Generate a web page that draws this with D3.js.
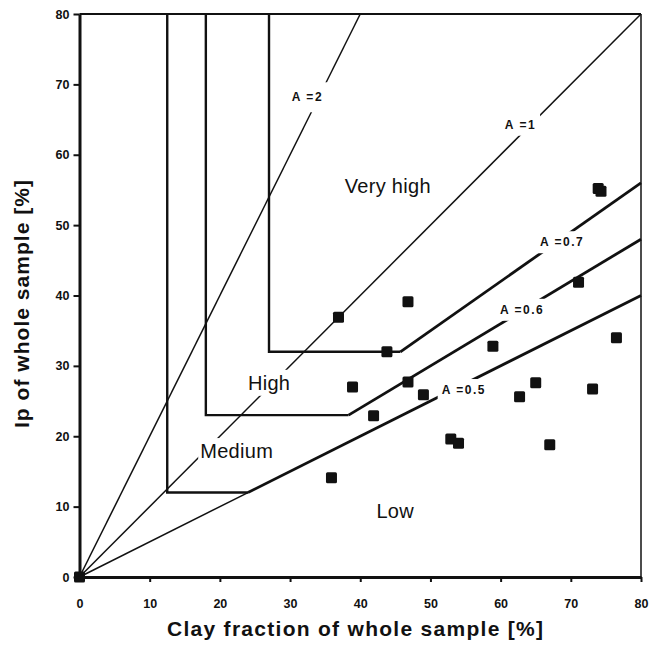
<!DOCTYPE html>
<html>
<head>
<meta charset="utf-8">
<script src="https://cdn.jsdelivr.net/npm/d3@7"></script>
<style>
  html, body { margin: 0; padding: 0; background: #fff; }
  svg { display: block; font-family: "Liberation Sans", Arial, sans-serif; }
</style>
</head>
<body>
<svg id="chart" width="651" height="645"></svg>
<script>
// Measured samples: clay fraction vs plasticity index (both % of whole sample)
const clayFraction = [0, 35.9, 36.9, 38.9, 41.9, 43.8, 46.8, 46.8, 49.0, 52.9, 54.0, 58.9, 62.7, 65.0, 67.0, 71.1, 73.1, 73.9, 74.3, 76.5];
const plasticityIndex = [0, 14.1, 36.9, 27.0, 22.9, 32.0, 39.1, 27.7, 25.9, 19.6, 19.0, 32.8, 25.6, 27.6, 18.8, 41.9, 26.7, 55.2, 54.8, 34.0];

// Activity lines Ip = A * clay fraction
const activityThin = [2, 1];
// Swelling-potential classes bounded by a minimum clay fraction, a minimum Ip and an activity line
const classNames = ["Medium", "High", "Very high"];
const classMinClay = [12.5, 18, 27];
const classMinIp = [12, 23, 32];
const classActivity = [0.5, 0.6, 0.7];

const xTicks = [0, 10, 20, 30, 40, 50, 60, 70, 80];
const yTicks = [0, 10, 20, 30, 40, 50, 60, 70, 80];

const svg = d3.select("#chart");
const x = d3.scaleLinear().domain([0, 80]).range([79.5, 641]);
const y = d3.scaleLinear().domain([0, 80]).range([577, 14]);
const ink = "#111";

const lineGen = d3.line().x(d => x(d[0])).y(d => y(d[1]));

// thin activity lines from the origin
const thinG = svg.append("g").attr("fill", "none").attr("stroke", ink).attr("stroke-width", 1.5);
activityThin.forEach(a => {
  const xEnd = Math.min(80, 80 / a);
  thinG.append("path").attr("d", lineGen([[0, 0], [xEnd, a * xEnd]]));
});
// lowest class activity line starts thin from the origin up to its Ip threshold
thinG.append("path").attr("d", lineGen([[0, 0], [classMinIp[0] / classActivity[0], classMinIp[0]]]));

// class boundaries: vertical clay limit, horizontal Ip limit, then activity line
const boundG = svg.append("g").attr("fill", "none").attr("stroke", ink)
  .attr("stroke-linejoin", "miter");
classNames.forEach((name, i) => {
  const c = classMinClay[i], ip = classMinIp[i], a = classActivity[i];
  boundG.append("path").attr("stroke-width", 2.4)
    .attr("d", lineGen([[c, 80], [c, ip], [ip / a, ip]]));
  boundG.append("path").attr("stroke-width", 2.8)
    .attr("d", lineGen([[ip / a, ip], [80, 80 * a]]));
});

// line labels with white backing so the lines break around them
const labelsG = svg.append("g");
function addLabel(text, dx, dy, opts) {
  const g = labelsG.append("g");
  const t = g.append("text")
    .attr("x", x(dx)).attr("y", y(dy))
    .attr("font-size", opts.size)
    .attr("font-weight", opts.weight)
    .attr("letter-spacing", opts.spacing || 0)
    .attr("fill", ink)
    .text(text);
  if (opts.pad) {
    const b = t.node().getBBox();
    g.insert("rect", "text")
      .attr("x", b.x - opts.pad).attr("y", b.y - opts.padY)
      .attr("width", b.width + 2 * opts.pad).attr("height", b.height + 2 * opts.padY)
      .attr("fill", "#fff");
  }
}
const aFmt = a => "A =" + a;
const aStyle = { size: 12, weight: "bold", spacing: 1.5, pad: 4, padY: 4 };
addLabel(aFmt(activityThin[0]), 30.25, 67.6, { ...aStyle, padY: 8 });
addLabel(aFmt(activityThin[1]), 60.6, 63.7, aStyle);
addLabel(aFmt(classActivity[2]), 65.6, 47.0, aStyle);
addLabel(aFmt(classActivity[1]), 59.9, 37.4, aStyle);
addLabel(aFmt(classActivity[0]), 51.6, 26.0, aStyle);

// class names
const zoneStyle = { size: 20, weight: "normal", spacing: 0.3 };
addLabel("Very high", 37.8, 54.6, zoneStyle);
addLabel("High", 24.0, 26.6, { ...zoneStyle, pad: 3, padY: 2 });
addLabel("Medium", 17.2, 16.9, { ...zoneStyle, pad: 2, padY: 2 });
addLabel("Low", 42.3, 8.4, zoneStyle);

// sample points
const pts = clayFraction.map((c, i) => [c, plasticityIndex[i]]);
const s = 11;
svg.append("g").selectAll("rect").data(pts).join("rect")
  .attr("x", d => x(d[0]) - s / 2)
  .attr("y", d => y(d[1]) - s / 2)
  .attr("width", s).attr("height", s)
  .attr("rx", 1.5)
  .attr("fill", ink);

// axes
const yAxis = svg.append("g").attr("transform", `translate(${x(0)},0)`)
  .call(d3.axisLeft(y).tickValues(yTicks).tickSizeInner(6).tickSizeOuter(0).tickPadding(4).tickFormat(d3.format("d")));
const xAxis = svg.append("g").attr("transform", `translate(0,${y(0)})`)
  .call(d3.axisBottom(x).tickValues(xTicks).tickSizeInner(5).tickSizeOuter(0).tickPadding(17).tickFormat(d3.format("d")));
[yAxis, xAxis].forEach(ax => {
  ax.select(".domain").attr("stroke", ink).attr("stroke-width", 3);
  ax.selectAll(".tick line").attr("stroke", ink).attr("stroke-width", 2);
  ax.selectAll(".tick text").attr("fill", ink)
    .attr("font-size", 12.5).attr("font-weight", "bold")
    .attr("font-family", "'Liberation Sans', Arial, sans-serif");
});

// top and right frame
svg.append("line").attr("x1", x(0)).attr("x2", x(80)).attr("y1", y(80)).attr("y2", y(80))
  .attr("stroke", ink).attr("stroke-width", 2);
svg.append("line").attr("x1", x(80)).attr("x2", x(80)).attr("y1", y(80)).attr("y2", y(0))
  .attr("stroke", ink).attr("stroke-width", 1.5);

// axis titles
svg.append("text")
  .attr("x", 355).attr("y", 636)
  .attr("text-anchor", "middle")
  .attr("font-size", 21).attr("font-weight", "bold")
  .attr("textLength", 376).attr("lengthAdjust", "spacing")
  .attr("fill", ink)
  .text("Clay fraction of whole sample [%]");
svg.append("text")
  .attr("transform", "translate(29,304) rotate(-90)")
  .attr("text-anchor", "middle")
  .attr("font-size", 21).attr("font-weight", "bold")
  .attr("textLength", 248).attr("lengthAdjust", "spacing")
  .attr("fill", ink)
  .text("Ip of whole sample [%]");
</script>
</body>
</html>
